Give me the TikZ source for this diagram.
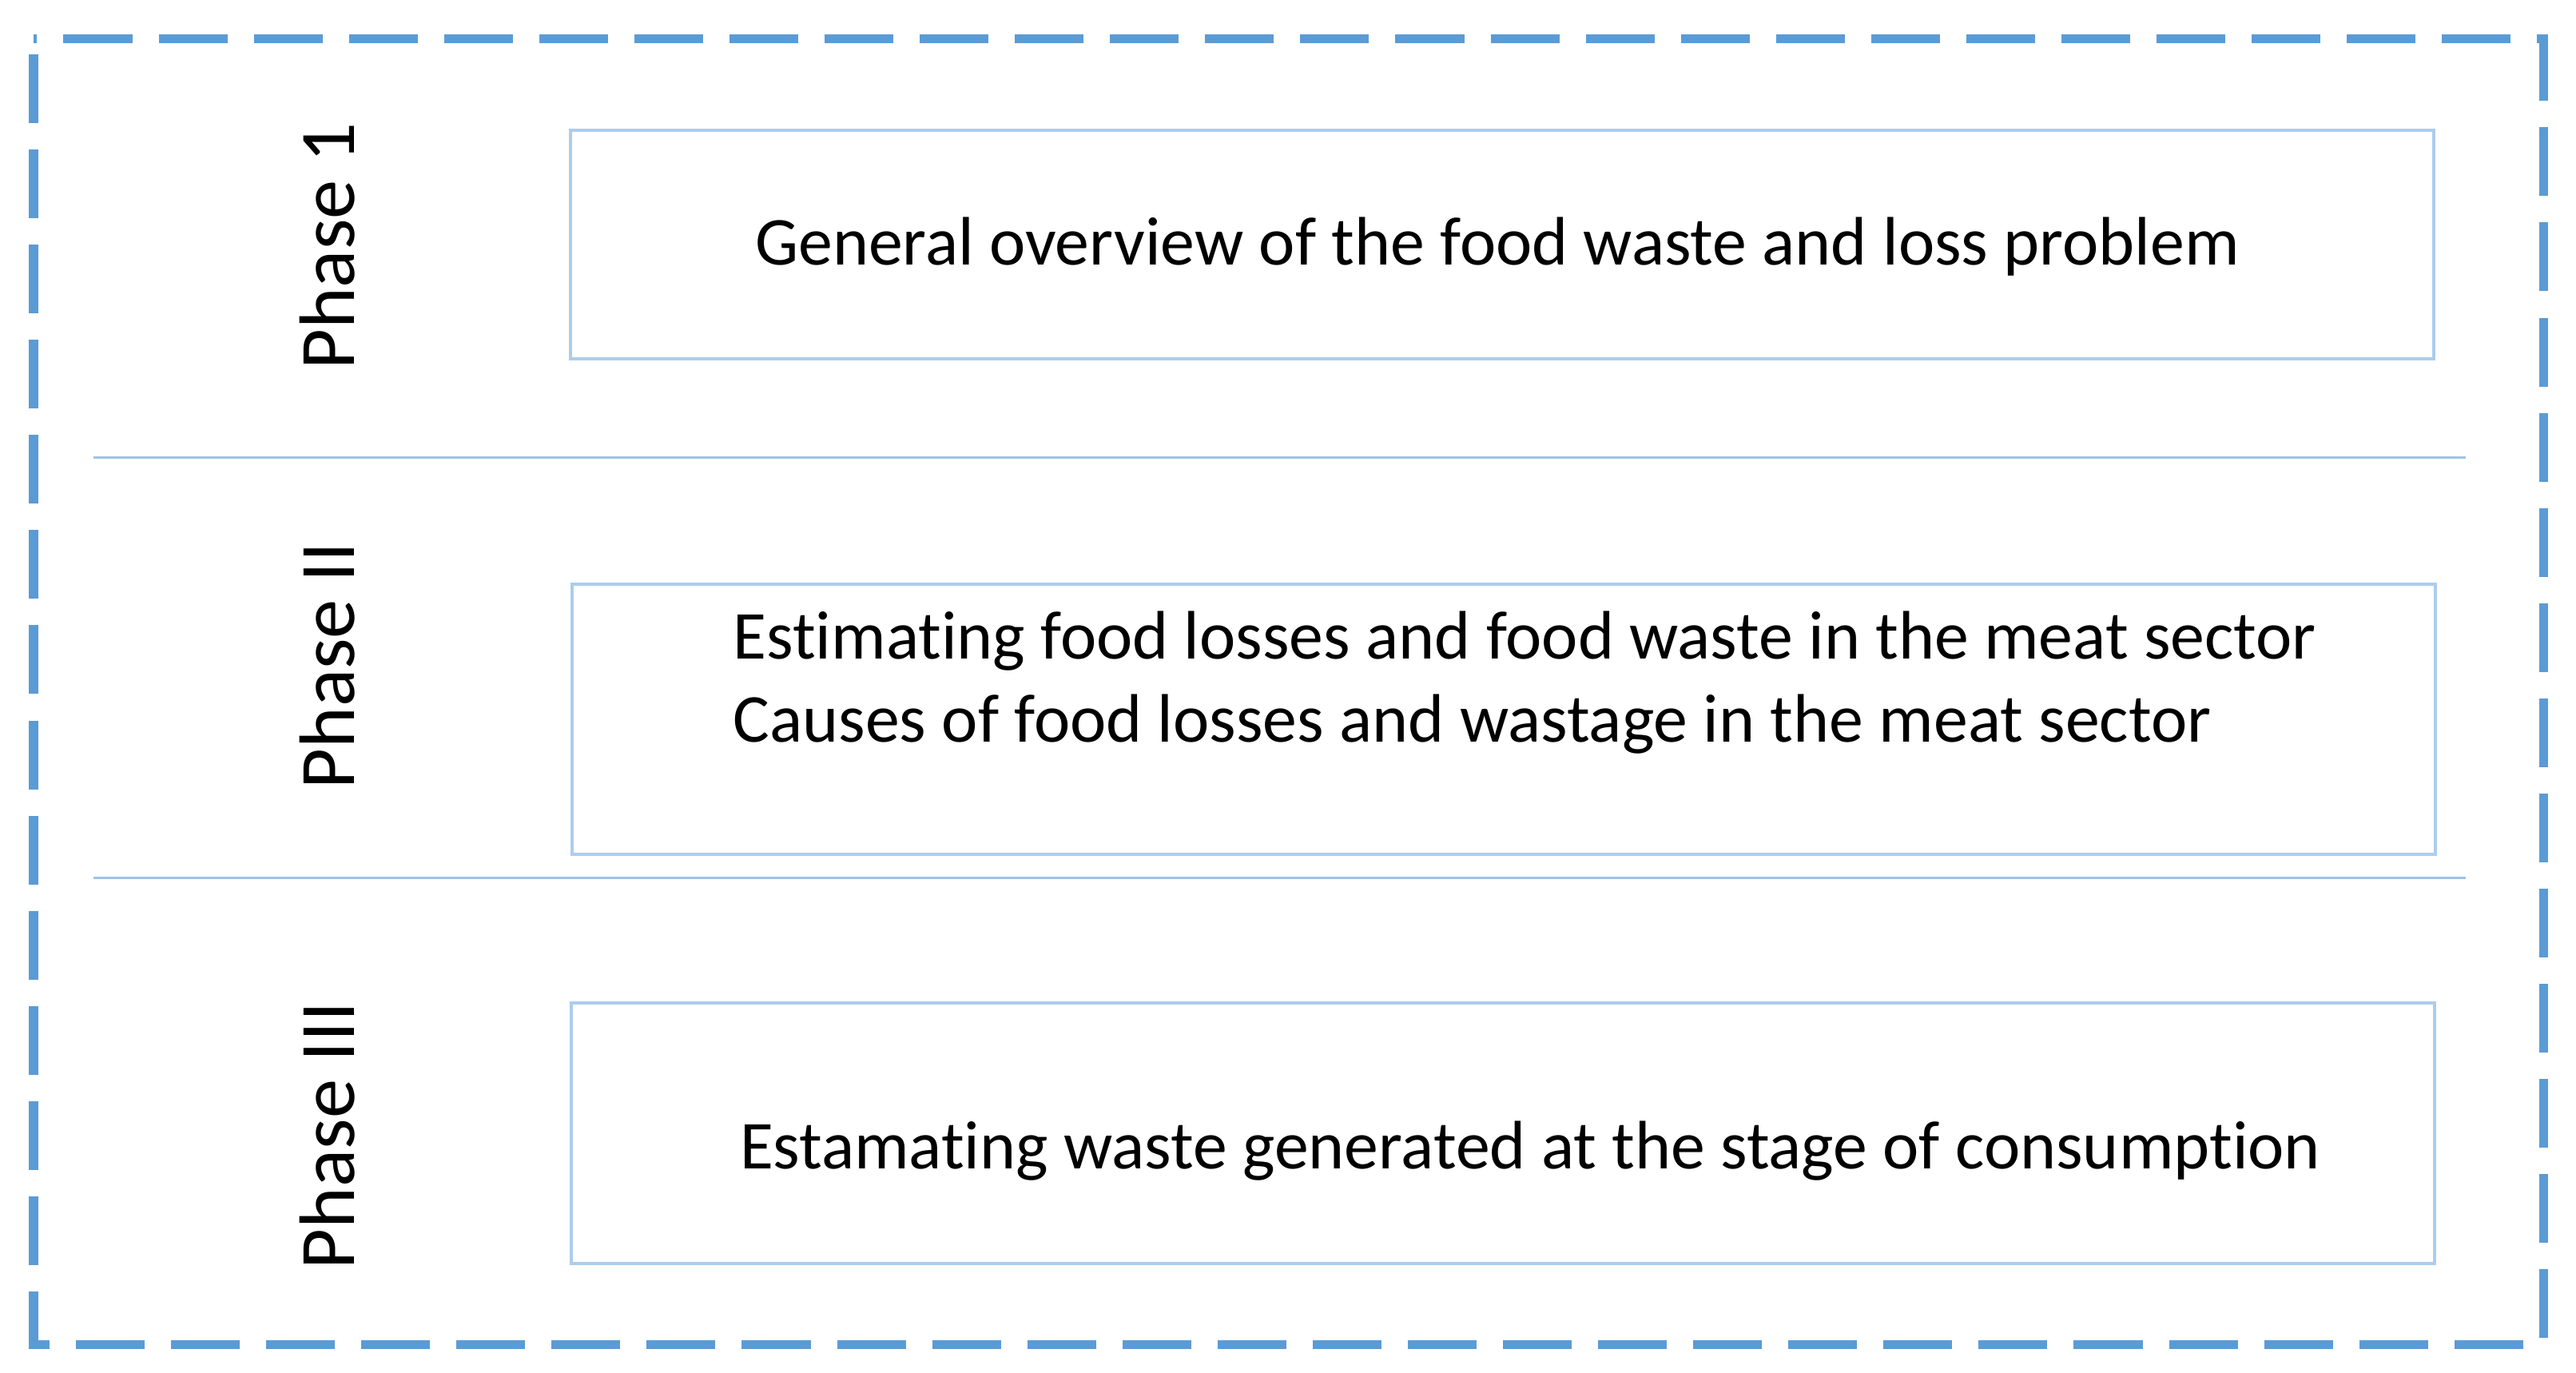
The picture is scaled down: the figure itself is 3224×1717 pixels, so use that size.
\documentclass[tikz,border=0pt]{standalone}
\usepackage{fontspec}
\setmainfont{Carlito}[Ligatures=NoCommon]
\usepackage{xcolor}
\definecolor{dashblue}{RGB}{91,155,213}
\definecolor{boxblue}{RGB}{172,205,236}
\definecolor{ruleblue}{RGB}{157,195,230}
\tikzset{
	phasebox/.style={draw=boxblue,line width=0.04cm,minimum width=23.3cm,inner sep=0pt},
	phaselabel/.style={rotate=90,font=\fontsize{28}{34}\selectfont},
	boxtext/.style={font=\fontsize{24.4}{29.5}\selectfont,align=left,inner sep=0pt}
	}

\begin{document}
\begin{tikzpicture}[x=0.01cm,y=-0.01cm,text depth=0.25ex]
		% \draw[help lines] (0,0) grid (3224,1717);
		\path[use as bounding box] (0,0) rectangle (3224,1717);
		\draw[dashblue,line width=0.11cm,dash pattern=on 0.86cm off 0.33cm,dash phase=-0.2cm] (42,48) rectangle (3183,1682);
		\tikzstyle{every path}=[solid]

		%% Phase one
		\draw (411,308) node [phaselabel] (p1) {Phase 1};
		\draw (1880,306) node [phasebox,minimum height=2.85cm] (b1) {};
		\draw (1874,304) node [boxtext] (t1) {General overview of the food waste and loss problem};

		%% Rule one
		\coordinate (r1w) at (117,572);
		\coordinate (r1e) at (3086,572);
		\draw [ruleblue,line width=0.03cm] (r1w) -- (r1e);

		%% Phase two
		\draw (411,833) node [phaselabel] (p2) {Phase II};
		\draw (1882,900) node [phasebox,minimum height=3.38cm] (b2) {};
		\draw (917,849) node [boxtext,anchor=west] (t2) {Estimating food losses and food waste in the meat sector\\Causes of food losses and wastage in the meat sector};

		%% Rule two
		\coordinate (r2w) at (117,1098);
		\coordinate (r2e) at (3086,1098);
		\draw [ruleblue,line width=0.03cm] (r2w) -- (r2e);

		%% Phase three
		\draw (411,1421) node [phaselabel] (p3) {Phase III};
		\draw (1881,1418) node [phasebox,minimum height=3.25cm] (b3) {};
		\draw (1915,1435) node [boxtext] (t3) {Estamating waste generated at the stage of consumption};

	\end{tikzpicture}
\end{document}
